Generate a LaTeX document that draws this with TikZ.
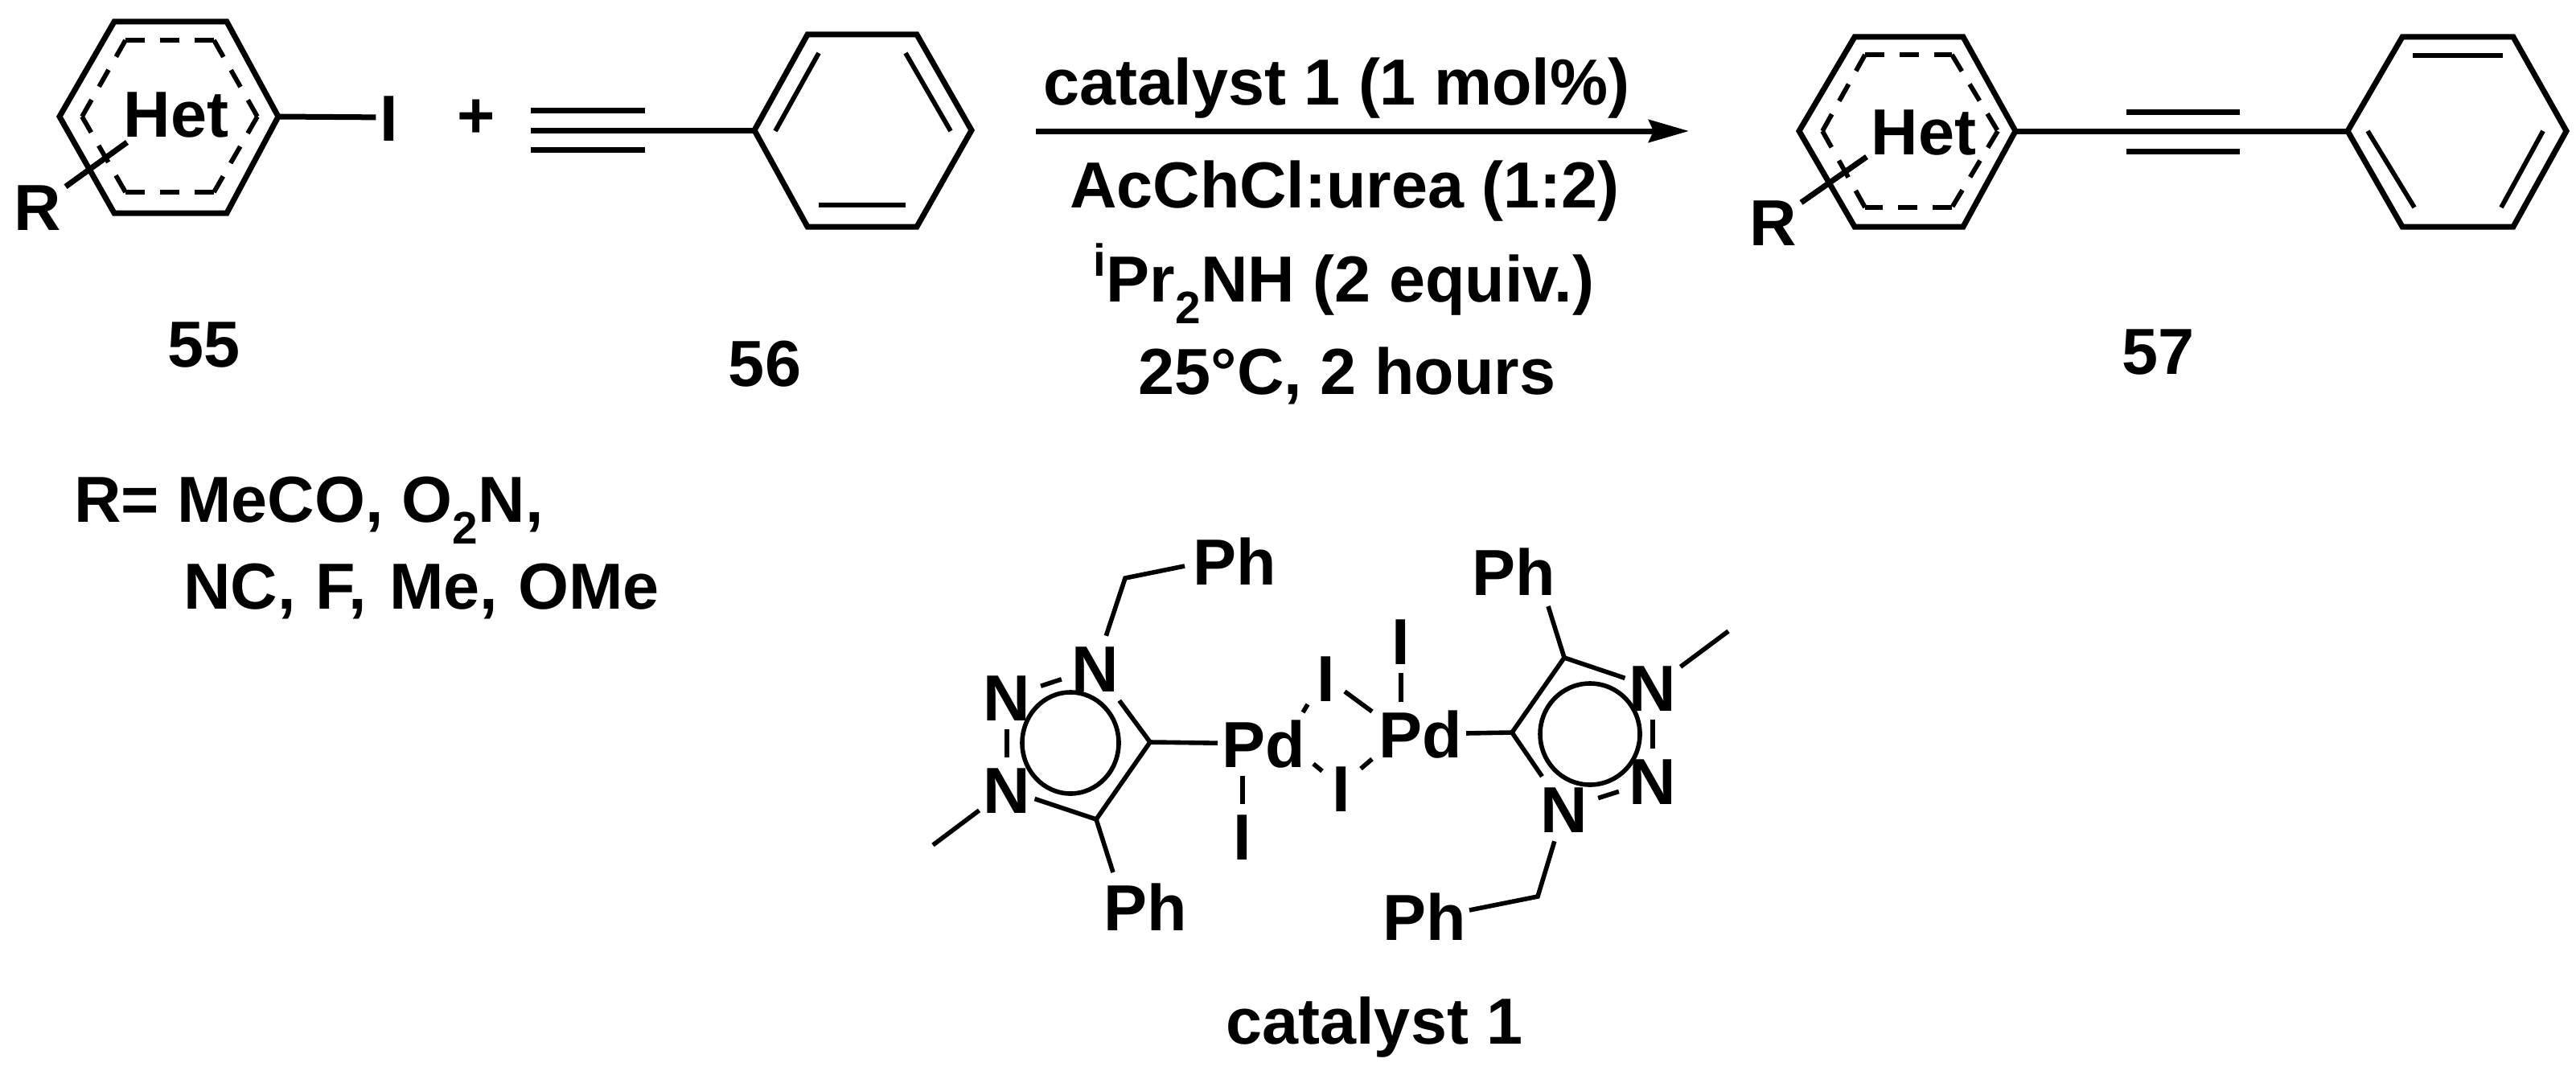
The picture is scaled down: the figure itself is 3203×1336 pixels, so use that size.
\documentclass[tikz,border=0pt]{standalone}
\usepackage{fontspec}
\setmainfont{Liberation Sans}
\usetikzlibrary{arrows.meta}
\usetikzlibrary{calc}
\newcommand{\chemfont}{\fontsize{57.6}{60}\bfseries\selectfont}
\tikzset{bond/.style={line width=1.75mm}}
\tikzset{thinbond/.style={line width=1.4mm}}
\tikzset{inbond/.style={line width=1.45mm}}
\tikzset{dashbond/.style={line width=1.45mm, dash pattern=on 6mm off 4.7mm}}
\tikzset{lbl/.style={anchor=base, inner sep=0pt, font=\chemfont}}
\tikzset{atom/.style={inner xsep=1.25mm, inner ysep=2.75mm, text height=14.5mm, text depth=0pt, font=\chemfont}}

\begin{document}
\begin{tikzpicture}[x=.25mm, y=-.25mm]
\useasboundingbox (0,0) rectangle (3203,1336);

% 55
\coordinate (a1) at (142,27);
\coordinate (a2) at (282,27);
\coordinate (a3) at (346,145);
\coordinate (a4) at (282,265);
\coordinate (a5) at (142,265);
\coordinate (a6) at (74,145);
\coordinate (d1) at (156,50);
\coordinate (d2) at (266,50);
\coordinate (d3) at (320,145);
\coordinate (d4) at (266,239);
\coordinate (d5) at (156,239);
\coordinate (d6) at (102,145);
\coordinate (rin) at (158,177);
\draw[bond, line join=miter] (a1) -- (a2) -- (a3) -- (a4) -- (a5) -- (a6) -- cycle;
\foreach \p/\q in {d1/d2, d2/d3, d3/d4, d4/d5, d5/d6, d6/d1}
  \draw[dashbond] (\p) -- (\q);
\node[lbl] (het) at (219,170) {Het};
\node[atom] (r) at (47,257) {R};
\node[atom] (iodo) at (484,146) {I};
\node[lbl] (plus) at (592,171) {+};
\draw[bond] (a3) -- (iodo);
\draw[bond] (r) -- (rin);
\node[lbl] (n55) at (254,456) {55};

% 56
\coordinate (b1) at (1004,43);
\coordinate (b2) at (1140,43);
\coordinate (b3) at (1208,162);
\coordinate (b4) at (1140,282);
\coordinate (b5) at (1004,282);
\coordinate (b6) at (938,162);
\coordinate (e1) at (1018,66);
\coordinate (e2) at (964,163);
\coordinate (e3) at (1126,66);
\coordinate (e4) at (1182,163);
\coordinate (e5) at (1018,255);
\coordinate (e6) at (1126,255);
\coordinate (t1) at (660,137);
\coordinate (t2) at (802,137);
\coordinate (t3) at (660,162);
\coordinate (t4) at (660,186);
\coordinate (t5) at (802,186);
\draw[bond, line join=miter] (b1) -- (b2) -- (b3) -- (b4) -- (b5) -- (b6) -- cycle;
\draw[inbond] (e1) -- (e2);
\draw[inbond] (e3) -- (e4);
\draw[inbond] (e5) -- (e6);
\draw[bond] (t1) -- (t2);
\draw[bond] (t3) -- (b6);
\draw[bond] (t4) -- (t5);
\node[lbl] (n56) at (951,480) {56};

% arrow and conditions
\coordinate (arl) at (1288,163);
\coordinate (arr) at (2100,163);
\draw[bond, -{Stealth[length=12.5mm, width=7mm, inset=1.5mm]}] (arl) -- (arr);
\node[lbl] (cond1) at (1662,130) {catalyst 1 (1 mol\%)};
\node[lbl] (cond2) at (1672,258) {AcChCl:urea (1:2)};
\node[lbl] (cond3) at (1671,375) {\raisebox{8mm}{\fontsize{40}{40}\selectfont i}Pr\textsubscript{2}NH (2 equiv.)};
\node[lbl] (cond4) at (1675,490) {25°C, 2 hours};

% 57
\coordinate (c1) at (2306,46);
\coordinate (c2) at (2441,46);
\coordinate (c3) at (2506,163);
\coordinate (c4) at (2441,282);
\coordinate (c5) at (2306,282);
\coordinate (c6) at (2237,163);
\coordinate (f1) at (2319,68);
\coordinate (f2) at (2427,68);
\coordinate (f3) at (2484,163);
\coordinate (f4) at (2427,258);
\coordinate (f5) at (2319,258);
\coordinate (f6) at (2266,163);
\coordinate (rin2) at (2321,195);
\draw[bond, line join=miter] (c1) -- (c2) -- (c3) -- (c4) -- (c5) -- (c6) -- cycle;
\foreach \p/\q in {f1/f2, f2/f3, f3/f4, f4/f5, f5/f6, f6/f1}
  \draw[dashbond] (\p) -- (\q);
\node[lbl] (het2) at (2392,192) {Het};
\node[atom] (r2) at (2205,276) {R};
\draw[bond] (r2) -- (rin2);
\coordinate (g1) at (2919,163);
\coordinate (g2) at (2987,46);
\coordinate (g3) at (3125,46);
\coordinate (g4) at (3191,163);
\coordinate (g5) at (3125,282);
\coordinate (g6) at (2987,282);
\coordinate (h1) at (3000,69);
\coordinate (h2) at (3112,69);
\coordinate (h3) at (2944,163);
\coordinate (h4) at (3002,258);
\coordinate (h5) at (3162,163);
\coordinate (h6) at (3110,258);
\coordinate (u1) at (2644,139);
\coordinate (u2) at (2785,139);
\coordinate (u3) at (2644,188);
\coordinate (u4) at (2785,188);
\draw[bond, line join=miter] (g1) -- (g2) -- (g3) -- (g4) -- (g5) -- (g6) -- cycle;
\draw[inbond] (h1) -- (h2);
\draw[inbond] (h3) -- (h4);
\draw[inbond] (h5) -- (h6);
\draw[bond] (c3) -- (g1);
\draw[bond] (u1) -- (u2);
\draw[bond] (u3) -- (u4);
\node[lbl] (n57) at (2683,465) {57};

% substituents
\node[lbl, anchor=base west] (rlist1) at (92,649) {R= MeCO, O\textsubscript{2}N,};
\node[lbl, anchor=base west] (rlist2) at (228,757) {NC,\kern.7mm{} F,\kern1.5mm{} Me,\kern.5mm{} OMe};

% catalyst, left half
\node[atom] (pdL) at (1571,925) {Pd};
\node[atom] (nLa) at (1362,831) {N};
\node[atom] (nLb) at (1252,867) {N};
\node[atom] (nLc) at (1252,982) {N};
\node[atom] (phLa) at (1535,698) {Ph};
\node[atom] (phLb) at (1424,1128) {Ph};
\node[atom] (iB) at (1545,1040) {I};
\coordinate (cLa) at (1430,923);
\coordinate (cLb) at (1363,1019);
\coordinate (chL) at (1399,719);
\coordinate (meL) at (1160,1051);
\coordinate (endLa) at (1473,704);
\coordinate (endLb) at (1384,1085);
\draw[thinbond] (1331,924) ellipse (60 and 63);
\draw[thinbond] (cLa) -- (pdL);
\draw[thinbond] (cLa) -- (cLb);
\draw[thinbond] (cLa) -- (nLa);
\draw[thinbond] (cLb) -- (nLc);
\draw[thinbond] (cLb) -- (endLb);
\draw[thinbond] (nLa) -- (chL) -- (endLa);
\draw[thinbond] (nLc) -- (meL);
\draw[thinbond] (nLb) -- (nLc);
\draw[thinbond, shorten <=2mm, shorten >=2mm] (nLb) -- (nLa);
\draw[thinbond] (iB) -- (iB |- pdL.south);

% catalyst, right half
\node[atom] (pdR) at (1766,913) {Pd};
\node[atom] (nRa) at (2055,855) {N};
\node[atom] (nRb) at (2055,971) {N};
\node[atom] (nRc) at (1945,1006) {N};
\node[atom] (phRa) at (1882,711) {Ph};
\node[atom] (phRb) at (1771,1140) {Ph};
\node[atom] (iT) at (1742,797) {I};
\coordinate (cRa) at (1880,911);
\coordinate (cRb) at (1945,818);
\coordinate (chR) at (1912,1115);
\coordinate (meR) at (2149,785);
\coordinate (endRa) at (1925,754);
\coordinate (endRb) at (1827,1132);
\draw[thinbond] (1977,913) ellipse (62 and 63);
\draw[thinbond] (cRa) -- (pdR);
\draw[thinbond] (cRa) -- (cRb);
\draw[thinbond] (cRa) -- (nRc);
\draw[thinbond] (cRb) -- (nRa);
\draw[thinbond] (cRb) -- (endRa);
\draw[thinbond] (nRc) -- (chR) -- (endRb);
\draw[thinbond] (nRa) -- (meR);
\draw[thinbond] (nRa) -- (nRb);
\draw[thinbond, shorten <=2mm, shorten >=2mm] (nRc) -- (nRb);
\draw[thinbond] (iT) -- (iT |- pdR.north);

% iodide bridges
\node[atom] (iU) at (1649,843) {I};
\node[atom] (iD) at (1668,980) {I};
\coordinate (k1) at (1620,886);
\coordinate (k2) at (1626,876);
\coordinate (k3) at (1672,860);
\coordinate (k4) at (1706,885);
\coordinate (k5) at (1633,950);
\coordinate (k6) at (1644,959);
\coordinate (k7) at (1692,956);
\coordinate (k8) at (1706,944);
\draw[thinbond] (k1) -- (k2);
\draw[thinbond] (k3) -- (k4);
\draw[thinbond] (k5) -- (k6);
\draw[thinbond] (k7) -- (k8);

\node[lbl] (catname) at (1709,1298) {catalyst 1};
\end{tikzpicture}
\end{document}
